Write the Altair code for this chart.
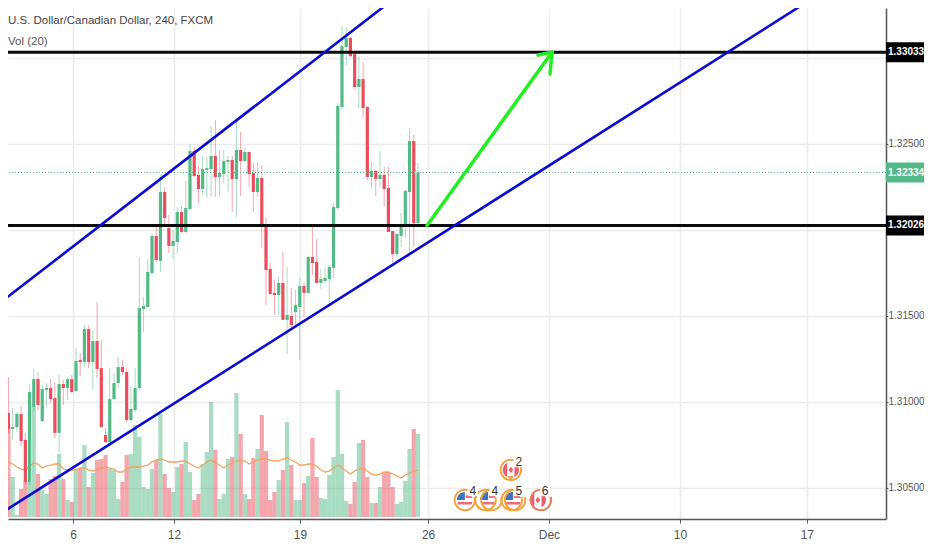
import altair as alt
import pandas as pd

# OHLC in 1e-5 price points, one entry per 4-hour bar
opens = [131407,131122,130936,130843,130854,130930,130779,130535,130971,131133,130889,131070,131081,131023,130820,131104,131081,131133,131064,131244,
         131232,131424,131232,131354,131197,130808,130767,131017,131110,131203,131174,130895,130953,131081,131540,131552,131750,131965,131820,132221,
         132011,131907,131930,132104,131988,132122,132459,132320,132238,132349,132354,132430,132308,132325,132395,132407,132296,132465,132401,132453,
         132331,132221,132302,132017,131773,131634,131622,131692,131477,131500,131523,131552,131674,131634,131843,131814,131692,131703,131715,131779,
         132128,132715,133064,133116,133023,132831,132878,132715,132308,132343,132296,132320,132244,131994,131860,131965,132017,132221,132517,132040]
highs = [131488,131157,131145,130965,130942,130977,130820,131099,131192,131174,131099,131110,131133,131116,131157,131128,131145,131157,131314,131285,
         131447,131447,131418,131581,131360,130849,131197,131168,131261,131244,131197,131087,131197,131843,131610,131831,131982,132023,132320,132250,
         132087,131999,132133,132139,132285,132500,132482,132372,132430,132424,132604,132640,132465,132465,132430,132430,132651,132570,132477,132453,
         132389,132395,132378,132075,131808,131709,131727,131872,131785,131663,131651,131721,131692,131849,132023,131948,131773,131779,131797,132157,
         132738,133186,133180,133122,133046,133011,132977,132721,132395,132349,132459,132366,132366,131994,131982,132098,132232,132593,132552,132389]
lows = [131087,130907,130820,130779,130825,130744,130523,130517,130942,130953,130883,130971,130994,130790,130703,130982,131011,131052,131058,131151,
        131203,131197,131070,131139,130849,130761,130738,131011,131081,131157,130883,130878,130942,131070,131407,131552,131738,131814,131756,132017,
        131866,131831,131866,131982,131982,132116,132308,132157,132203,132186,132192,132192,132192,132273,132221,132104,132075,132198,132395,132250,
        132104,132192,131895,131564,131622,131506,131506,131477,131279,131430,131430,131244,131494,131628,131738,131692,131657,131692,131564,131721,
        132116,132703,132959,133006,132820,132709,132651,132290,132244,132198,132244,132139,131988,131814,131843,131901,131953,131837,131901,132040]
closes = [131116,130930,130843,130854,130930,130773,130535,131058,131133,130982,131075,131081,131017,130820,131104,131081,131133,131058,131238,131232,
          131424,131232,131354,131192,130854,130767,131017,131110,131203,131174,130895,130959,131081,131546,131558,131756,131965,131825,132221,132070,
          131907,131936,132104,131988,132128,132459,132314,132238,132354,132360,132430,132308,132331,132401,132407,132296,132465,132401,132453,132325,
          132221,132302,132017,131767,131628,131622,131692,131477,131506,131447,131564,131674,131634,131843,131808,131692,131715,131721,131785,132133,
          132721,133070,133116,133011,132831,132878,132709,132308,132343,132296,132320,132238,131988,131860,131977,132023,132227,132517,132040,132334]
volumes = [38,67,90,40,2,28,36,35,110,43,27,23,38,41,63,38,17,15,47,48,
           72,30,44,57,58,62,48,47,18,35,62,63,92,80,30,28,48,57,103,43,
           29,25,50,53,75,45,17,23,53,65,115,67,18,23,58,60,124,83,23,18,
           59,68,102,66,17,25,37,47,95,52,17,17,34,41,79,40,19,18,42,60,
           127,63,16,13,35,74,77,40,14,14,30,45,45,30,13,15,36,68,88,83]
vol_ma = [50,53,55,53,50,48,47,51,54,53,49,51,52,53,53,48,47,47,47,49,
          49,47,46,48,49,50,49,48,45,45,48,50,50,50,51,52,55,57,58,57,
          55,55,55,56,56,53,51,49,52,55,57,54,52,49,52,54,56,57,56,53,
          55,57,58,58,57,56,56,58,59,57,55,52,52,53,53,51,47,45,46,49,
          52,49,46,43,46,48,49,46,43,42,43,45,45,43,41,39,42,44,46,47]

# Axis ticks, as bar positions
x_ticks = [17.3, 41.2, 71.06, 101.4, 130.01, 161.06, 191.1]
x_labels = ["6", "12", "19", "26", "Dec", "10", "17"]
y_ticks = [1.305, 1.31, 1.315, 1.32, 1.325, 1.33]

# Drawn levels and price tags
level_prices = [1.33033, 1.32026]
last_price = 1.32334
tag_prices = [1.33033, 1.32334, 1.32026]
tag_colors = ["#000000", "#53b987", "#000000"]
tag_half = 0.00058

# Trend lines and arrow: segment, bar position, price
seg_names = ["upper", "upper", "lower", "lower"]
seg_bars = [0, 93.56, 0, 191.85]
seg_prices = [1.31576, 1.33349, 1.30349, 1.33337]
arrow_names = ["shaft", "shaft", "left", "left", "right", "right"]
arrow_bars = [101.14, 130.74, 127.43, 130.74, 130.27, 130.74]
arrow_prices = [1.32026, 1.33033, 1.33017, 1.33033, 1.32907, 1.33033]

# Event badges
us_bars = [110.1, 115.6, 121.5]
us_prices = [1.3043, 1.3043, 1.3043]
ca_bars = [127.4, 121.0]
ca_prices = [1.3043, 1.30605]
ring_bars = [110.1, 115.0, 116.4, 121.2, 122.0, 128.1, 121.0]
ring_prices = [1.3043, 1.3043, 1.3043, 1.3043, 1.3043, 1.3043, 1.30605]
ring_colors = ["#f5a33c", "#f5a33c", "#f5a33c", "#f5a33c", "#f5a33c", "#f07a5a", "#f5a33c"]
num_bars = [112.0, 117.2, 122.9, 129.1, 122.9]
num_prices = [1.30483, 1.30483, 1.30483, 1.30483, 1.30651]
num_texts = ["4", "4", "5", "6", "2"]

TITLE = "U.S. Dollar/Canadian Dollar, 240, FXCM"
STUDY = "Vol (20)"

GREEN = "#53b987"
RED = "#eb4d5c"
TEXT = "#555555"
FONT = "Liberation Sans"
Y_MIN, Y_MAX = 1.303195, 1.332905
X_MIN, X_MAX = 1.895, 209.85
VOL_BASE = 1.30331
VOL_UNIT = 0.00005814

df = pd.DataFrame({
    "k": list(range(len(opens))),
    "open": [v / 1e5 for v in opens],
    "high": [v / 1e5 for v in highs],
    "low": [v / 1e5 for v in lows],
    "close": [v / 1e5 for v in closes],
    "vol": volumes,
    "ma": vol_ma,
})
df["dir"] = ["up" if c >= o else "down" for o, c in zip(opens, closes)]
df["vbase"] = VOL_BASE
df["vtop"] = df["vol"] * VOL_UNIT + VOL_BASE
df["matop"] = df["ma"] * VOL_UNIT + VOL_BASE

xs = alt.Scale(domain=[X_MIN, X_MAX], nice=False, zero=False, padding=0)
ys = alt.Scale(domain=[Y_MIN, Y_MAX], nice=False, zero=False, padding=0)
label_map = ",".join(f"'{t}':'{l}'" for t, l in zip(x_ticks, x_labels))
x_axis = alt.Axis(values=x_ticks, labelExpr="{" + label_map + "}[datum.value]", title=None,
                  grid=True, gridColor="#ececec", gridWidth=1.5, domainColor=TEXT, domainWidth=1.5,
                  tickColor=TEXT, tickSize=4, labelColor=TEXT, labelFont=FONT, labelFontSize=12,
                  labelPadding=6)
y_axis = alt.Axis(values=y_ticks, orient="right", title=None,
                  labelExpr="(datum.value == 1.33 || datum.value == 1.32) ? '' : format(datum.value, '.5f')",
                  grid=True, gridColor="#ececec", gridWidth=1.5, domainColor=TEXT, domainWidth=1.5,
                  tickColor=TEXT, tickSize=2, labelColor=TEXT, labelFont=FONT, labelFontSize=10,
                  labelPadding=0)
X = alt.X("k:Q", scale=xs, axis=x_axis)
Y = alt.Y("p:Q", scale=ys, axis=y_axis)


def price(field):
    return alt.Y(field, scale=ys, axis=y_axis)


color = alt.Color("dir:N", scale=alt.Scale(domain=["up", "down"], range=[GREEN, RED]), legend=None)

vol_layer = alt.Chart(df).mark_bar(size=4.22, opacity=0.5, clip=True).encode(
    x=X, y=price("vtop:Q"), y2="vbase:Q", color=color)
ma_layer = alt.Chart(df).mark_line(color="#f2a35e", strokeWidth=1.3, clip=True).encode(
    x=X, y=price("matop:Q"))
wicks = alt.Chart(df).mark_rule(strokeWidth=1, opacity=0.5, clip=True).encode(
    x=X, y=price("low:Q"), y2="high:Q", color=color)
body = alt.Chart(df).mark_bar(size=3.2, clip=True).encode(
    x=X, y=price("open:Q"), y2="close:Q", color=color)

levels = alt.Chart(pd.DataFrame({"p": level_prices})).mark_rule(color="#0a0a0a", strokeWidth=3).encode(y=Y)
last_line = alt.Chart(pd.DataFrame({"p": [last_price]})).mark_rule(
    color=GREEN, strokeWidth=1, strokeDash=[1, 2]).encode(y=Y)

segs = alt.Chart(pd.DataFrame({"g": seg_names, "k": seg_bars, "p": seg_prices})).mark_line(
    color="#0a0ad2", strokeWidth=2.6, clip=True).encode(x=X, y=Y, detail="g:N")
arrow = alt.Chart(pd.DataFrame({"g": arrow_names, "k": arrow_bars, "p": arrow_prices})).mark_line(
    color="#22ee22", strokeWidth=3.5, clip=True, strokeCap="round").encode(x=X, y=Y, detail="g:N")

RING = "M0.3 -0.95 A1 1 0 1 0 0.95 -0.3"
DISC = "M-1 0 A1 1 0 1 0 1 0 A1 1 0 1 0 -1 0 Z"
US_BLUE = "M0 0 L-1 0 A1 1 0 0 1 0 -1 Z"
US_RED = "M-0.95 0.25 L0.95 0.25 L0.85 0.55 L-0.85 0.55 Z M0.1 -0.6 L0.8 -0.6 L0.95 -0.25 L0.1 -0.25 Z"
CA_RED = "M-0.45 -0.9 A1 1 0 0 0 -0.45 0.9 Z M0.45 -0.9 A1 1 0 0 1 0.45 0.9 Z M0 -0.4 L0.3 0 L0 0.4 L-0.3 0 Z"


def badge(bars, prices, shape, fill, size=256):
    d = pd.DataFrame({"k": bars, "p": prices})
    return alt.Chart(d).mark_point(shape=shape, filled=True, fill=fill, size=size, opacity=1, strokeWidth=0).encode(x=X, y=Y)


rings = alt.Chart(pd.DataFrame({"k": ring_bars, "p": ring_prices, "c": ring_colors})).mark_point(
    shape=RING, filled=False, size=420, strokeWidth=2, opacity=1).encode(x=X, y=Y, stroke=alt.Stroke("c:N", scale=None))
tail = alt.Chart(pd.DataFrame({"k": [ca_bars[1]], "p": [1.30555]})).mark_point(
    shape="triangle-down", filled=True, fill="#f5a33c", size=35, opacity=1).encode(x=X, y=Y)
num_df = pd.DataFrame({"k": num_bars, "p": num_prices, "t": num_texts})
num_bg = alt.Chart(num_df).mark_point(shape="square", filled=True, fill="#ffffff", size=110, opacity=0.9).encode(x=X, y=Y)
nums = alt.Chart(num_df).mark_text(font=FONT, fontSize=12, color="#333333").encode(x=X, y=Y, text="t:N")

tag_df = pd.DataFrame({"p": tag_prices, "c": tag_colors, "t": [f"{v:.5f}" for v in tag_prices]})
tag_df["hi"] = tag_df["p"] + tag_half
tag_df["lo"] = tag_df["p"] - tag_half
tags = alt.Chart(tag_df).mark_rect().encode(
    x=alt.value(878), x2=alt.value(916), y=price("hi:Q"), y2="lo:Q",
    color=alt.Color("c:N", scale=None))
tag_text = alt.Chart(tag_df).mark_text(align="left", font=FONT, fontSize=10, color="#ffffff", fontWeight="bold").encode(
    x=alt.value(880), y=Y, text="t:N")

title = alt.Chart(pd.DataFrame({"t": [TITLE]})).mark_text(
    align="left", font=FONT, fontSize=11.5, color="#444444").encode(x=alt.value(0), y=alt.value(13), text="t:N")
study = alt.Chart(pd.DataFrame({"t": [STUDY]})).mark_text(
    align="left", font=FONT, fontSize=11.5, color=TEXT).encode(x=alt.value(0), y=alt.value(34), text="t:N")

chart = alt.layer(
    vol_layer, ma_layer, wicks, body, last_line, levels, segs, arrow,
    badge(us_bars, us_prices, DISC, "#ffffff"), badge(ca_bars, ca_prices, DISC, "#ffffff"),
    badge(us_bars, us_prices, US_RED, "#ee6b7a"), badge(us_bars, us_prices, US_BLUE, "#3f74bd"),
    badge(ca_bars, ca_prices, CA_RED, "#e8606f"),
    rings, tail, num_bg, nums, tags, tag_text, title, study,
).properties(
    width=878, height=511,
    padding={"left": 0, "top": 0, "right": 38, "bottom": 23},
    autosize=alt.AutoSizeParams(type="none"),
    background="#ffffff",
).configure_view(strokeWidth=0)

chart.save("out.html", embed_options={"renderer": "svg", "actions": False})
